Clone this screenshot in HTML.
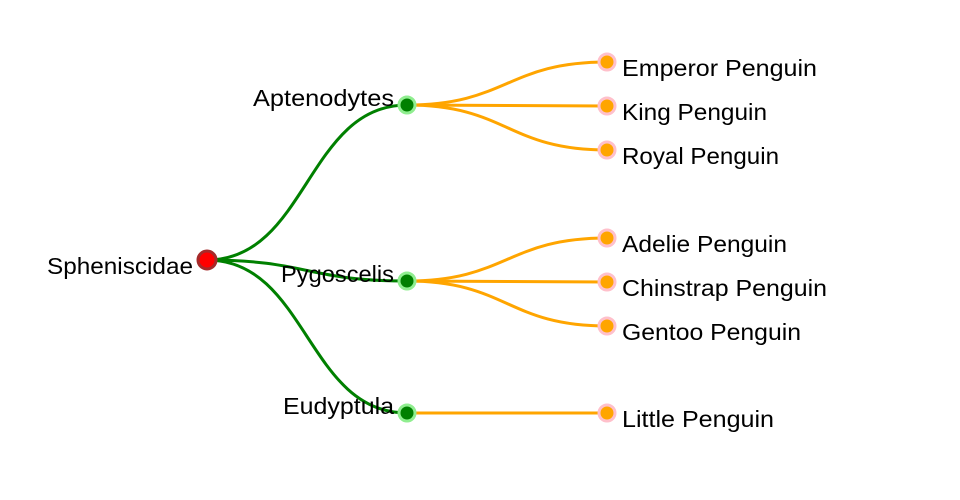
<!DOCTYPE html>
<html><head><meta charset="utf-8"><style>
html,body{margin:0;padding:0;background:#fff;width:960px;height:500px;overflow:hidden}
text{font-family:"Liberation Sans",sans-serif;font-size:23.5px;fill:#000}
</style></head><body>
<svg width="960" height="500" xmlns="http://www.w3.org/2000/svg">
<g fill="none" stroke-width="3">
<g stroke="green">
<path d="M207,260 C307,260 307,105 407,105"/>
<path d="M207,260 C307,260 307,281 407,281"/>
<path d="M207,260 C307,260 307,413 407,413"/>
</g>
<g stroke="orange">
<path d="M407,105 C507,105 507,62 607,62"/>
<path d="M407,105 C507,105 507,106 607,106"/>
<path d="M407,105 C507,105 507,150 607,150"/>
<path d="M407,281 C507,281 507,238 607,238"/>
<path d="M407,281 C507,281 507,282 607,282"/>
<path d="M407,281 C507,281 507,326 607,326"/>
<path d="M407,413 C507,413 507,413 607,413"/>
</g>
</g>
<circle cx="207" cy="260" r="9" fill="red" stroke="#a52a2a" stroke-width="3"/>
<g fill="green" stroke="lightgreen" stroke-width="3">
<circle cx="407" cy="105" r="8"/><circle cx="407" cy="281" r="8"/><circle cx="407" cy="413" r="8"/>
</g>
<g fill="orange" stroke="pink" stroke-width="3">
<circle cx="607" cy="62" r="8"/><circle cx="607" cy="106" r="8"/><circle cx="607" cy="150" r="8"/>
<circle cx="607" cy="238" r="8"/><circle cx="607" cy="282" r="8"/><circle cx="607" cy="326" r="8"/>
<circle cx="607" cy="413" r="8"/>
</g>
<text x="47" y="274" textLength="146" lengthAdjust="spacingAndGlyphs">Spheniscidae</text>
<text x="253" y="106" textLength="141" lengthAdjust="spacingAndGlyphs">Aptenodytes</text>
<text x="281" y="282" textLength="113" lengthAdjust="spacingAndGlyphs">Pygoscelis</text>
<text x="283" y="414" textLength="111" lengthAdjust="spacingAndGlyphs">Eudyptula</text>
<text x="622" y="76" textLength="195" lengthAdjust="spacingAndGlyphs">Emperor Penguin</text>
<text x="622" y="120" textLength="145" lengthAdjust="spacingAndGlyphs">King Penguin</text>
<text x="622" y="164" textLength="157" lengthAdjust="spacingAndGlyphs">Royal Penguin</text>
<text x="622" y="252" textLength="165" lengthAdjust="spacingAndGlyphs">Adelie Penguin</text>
<text x="622" y="296" textLength="205" lengthAdjust="spacingAndGlyphs">Chinstrap Penguin</text>
<text x="622" y="340" textLength="179" lengthAdjust="spacingAndGlyphs">Gentoo Penguin</text>
<text x="622" y="427" textLength="152" lengthAdjust="spacingAndGlyphs">Little Penguin</text>
</svg>
</body></html>
